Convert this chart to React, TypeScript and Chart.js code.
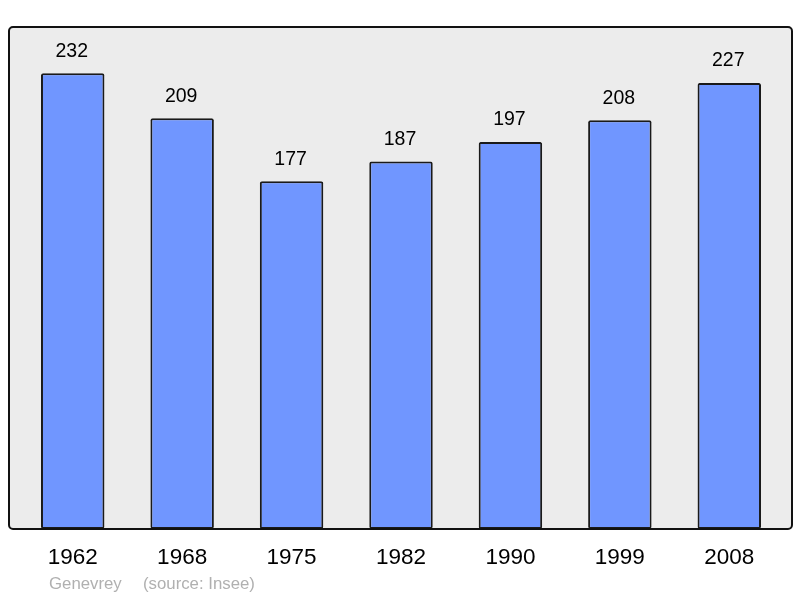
import { useEffect, useRef } from "react";
import { Chart, registerables, Plugin } from "chart.js";

Chart.register(...registerables);

// Données de population
const years: string[] = ["1962", "1968", "1975", "1982", "1990", "1999", "2008"];
const population: number[] = [232, 209, 177, 187, 197, 208, 227];
const commune = "Genevrey";
const source = "(source: Insee)";

// Cadre gris arrondi autour de la zone du graphique
const framePlugin: Plugin<"bar"> = {
    id: "frame",
    beforeDraw(chart) {
        const { ctx, chartArea } = chart;
        const left = 9;
        const right = 792;
        ctx.save();
        ctx.beginPath();
        ctx.roundRect(left, chartArea.top, right - left, chartArea.bottom - chartArea.top, 4);
        ctx.fillStyle = "#ececec";
        ctx.fill();
        ctx.restore();
    },
    afterDraw(chart) {
        const { ctx, chartArea } = chart;
        const left = 9;
        const right = 792;
        ctx.save();
        ctx.beginPath();
        ctx.roundRect(left, chartArea.top, right - left, chartArea.bottom - chartArea.top, 4);
        ctx.lineWidth = 2;
        ctx.strokeStyle = "#111";
        ctx.stroke();
        // pied de page
        ctx.font = "16.8px 'Liberation Sans', Arial, sans-serif";
        ctx.fillStyle = "#b0b0b0";
        ctx.textBaseline = "middle";
        ctx.textAlign = "left";
        ctx.fillText(commune, 49, 584);
        ctx.fillText(source, 143, 584);
        ctx.restore();
    },
};

// Valeurs au-dessus des barres
const valueLabels: Plugin<"bar"> = {
    id: "valueLabels",
    afterDatasetsDraw(chart) {
        const { ctx } = chart;
        const meta = chart.getDatasetMeta(0);
        ctx.save();
        ctx.font = "19.5px 'Liberation Sans', Arial, sans-serif";
        ctx.fillStyle = "#000";
        ctx.textAlign = "center";
        ctx.textBaseline = "middle";
        meta.data.forEach((bar, i) => {
            ctx.fillText(String(population[i]), bar.x - 1, bar.y - 22);
        });
        ctx.restore();
    },
};

export default function App() {
    const chartRef = useRef<HTMLCanvasElement | null>(null);

    useEffect(() => {
        document.body.style.margin = "0";
        const ctx = chartRef.current?.getContext("2d");
        if (!ctx) return;

        const chart = new Chart(ctx, {
            type: "bar",
            data: {
                labels: years,
                datasets: [
                    {
                        data: population,
                        backgroundColor: "#7096ff",
                        borderColor: "#1a1a1a",
                        borderWidth: 2,
                        borderRadius: 2,
                        borderSkipped: false,
                        barPercentage: 0.58,
                        categoryPercentage: 1,
                    },
                ],
            },
            options: {
                animation: false,
                responsive: false,
                layout: { padding: { left: 18, right: 16, top: 27, bottom: 20 } },
                plugins: {
                    legend: { display: false },
                    tooltip: { enabled: false },
                },
                scales: {
                    x: {
                        grid: { display: false },
                        border: { display: false },
                        ticks: {
                            color: "#000",
                            padding: 7,
                            font: { size: 22.5, family: "'Liberation Sans', Arial, sans-serif" },
                        },
                    },
                    y: {
                        display: false,
                        min: 0,
                        max: 255.5,
                    },
                },
            },
            plugins: [framePlugin, valueLabels],
        });

        return () => {
            chart.destroy();
        };
    }, []);

    return (
        <div style={{ width: 800, height: 598 }}>
            <canvas ref={chartRef} width={800} height={598} />
        </div>
    );
}
